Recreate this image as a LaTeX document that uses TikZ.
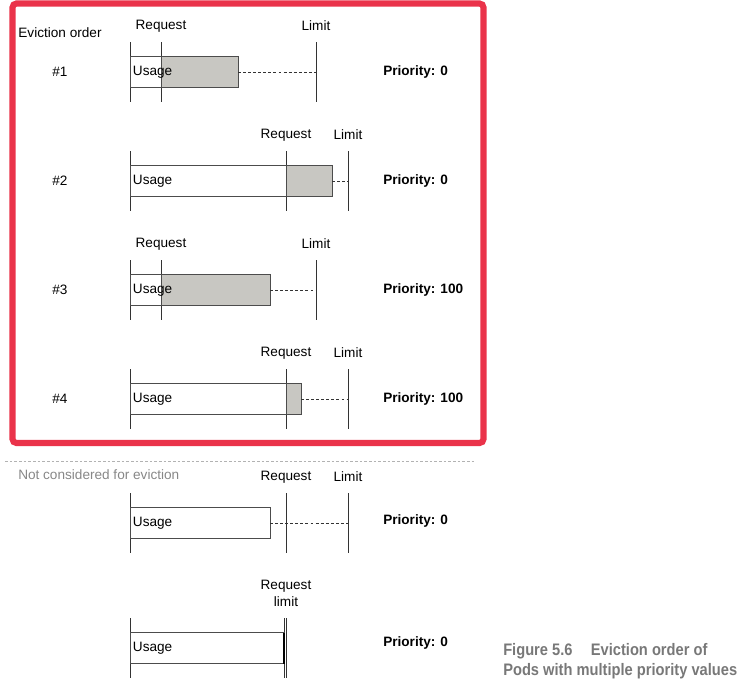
\documentclass[tikz,border=0pt]{standalone}
\usepackage{fontspec}
\setmainfont{Liberation Sans}
\newfontfamily\capfont[FakeStretch=0.88]{Liberation Sans}
\usepackage{tikz}

\definecolor{evictred}{RGB}{234,51,74}
\definecolor{overgray}{RGB}{200,199,194}
\definecolor{notegray}{RGB}{135,135,135}
\definecolor{capgray}{RGB}{120,120,120}

\begin{document}
\begin{tikzpicture}[x=0.75pt, y=-0.75pt, font=\fontsize{10.2}{12.75}\selectfont]
    \tikzstyle{usagebox} = [draw=black!70, fill=white, line width=0.7pt]
    \tikzstyle{overbox} = [draw=black!70, fill=overgray, line width=0.7pt]
    \tikzstyle{tick} = [draw=black!80, line width=0.55pt]
    \tikzstyle{slack} = [draw=black!80, dash pattern=on 2.2pt off 1.6pt, line width=0.55pt]
    \tikzstyle{prio} = [anchor=west, inner sep=0pt, font=\fontsize{10.2}{12}\selectfont\bfseries]
    \useasboundingbox (0,0) rectangle (748,697);
    % frame round the pods that can be evicted
    \draw[evictred, line width=4.6pt, rounded corners=3pt] (12.5,3.5) rectangle (483.5,443);
    \node (order) at (60,33) {Eviction order};
    % rows #1 to #4: y / request / limit / usage end / rank / priority
    \foreach \y/\req/\lim/\use/\n/\p in {72/161/316/238/1/0, 181/286/348/332/2/0, 290/161/316/270/3/100, 399/286/348/301/4/100}{
        \draw[tick] (130,\y-30) -- (130,\y+30);
        \draw[tick] (\req,\y-30) -- (\req,\y+30);
        \draw[tick] (\lim,\y-30) -- (\lim,\y+30);
        \draw[usagebox] (130,\y-15.5) rectangle (\use,\y+15.5);
        \draw[overbox] (\req,\y-15.5) rectangle (\use,\y+15.5);
        \node[anchor=west, inner sep=2pt] (usage\n) at (130,\y) {Usage};
        \coordinate (end\n) at (\use,\y);
        \coordinate (lim\n) at (\lim,\y);
        \draw[slack] (end\n) -- (lim\n);
        \node (req\n) at (\req,\y-46) {Request};
        \node (limit\n) at (\lim,\y-46) {Limit};
        \node (rank\n) at (60,\y) {\#\n};
        \node[prio] (prio\n) at (383,\y) {Priority: \p};
    }
    % pods that are never evicted
    \draw[draw=black!30, dash pattern=on 2pt off 1.5pt, line width=0.6pt] (5,461) -- (476,461);
    \node[anchor=west, text=notegray, inner sep=0pt] (note) at (18,475) {Not considered for eviction};
    \draw[tick] (130,493) -- (130,553);
    \draw[tick] (286,493) -- (286,553);
    \draw[tick] (348,493) -- (348,553);
    \draw[usagebox] (130,507.5) rectangle (270,538.5);
    \node[anchor=west, inner sep=2pt] (usage5) at (130,523) {Usage};
    \coordinate (end5) at (270,523);
    \coordinate (lim5) at (348,523);
    \draw[slack] (end5) -- (lim5);
    \node (req5) at (286,477) {Request};
    \node (limit5) at (348,477) {Limit};
    \node[prio] (prio5) at (383,521) {Priority: 0};
    \draw[tick] (130,618) -- (130,678);
    \draw[tick] (284,618) -- (284,678);
    \draw[tick] (286.8,618) -- (286.8,678);
    \draw[usagebox] (130,632.5) rectangle (284,663.5);
    \draw[black, line width=1.6pt] (284,632.5) -- (284,663.5);
    \node[anchor=west, inner sep=2pt] (usage6) at (130,648) {Usage};
    \node[align=center] (req6) at (286,593.5) {Request\\limit};
    \node[prio] (prio6) at (383,643) {Priority: 0};
    % caption
    \node[anchor=west, inner sep=0pt, text=capgray, font=\capfont\fontsize{12.5}{15}\selectfont\bfseries] (cap1) at (503,651) {Figure 5.6\hspace{1.1em}Eviction order of};
    \node[anchor=west, inner sep=0pt, text=capgray, font=\capfont\fontsize{12.5}{15}\selectfont\bfseries] (cap2) at (503,671) {Pods with multiple priority values};
\end{tikzpicture}
\end{document}
